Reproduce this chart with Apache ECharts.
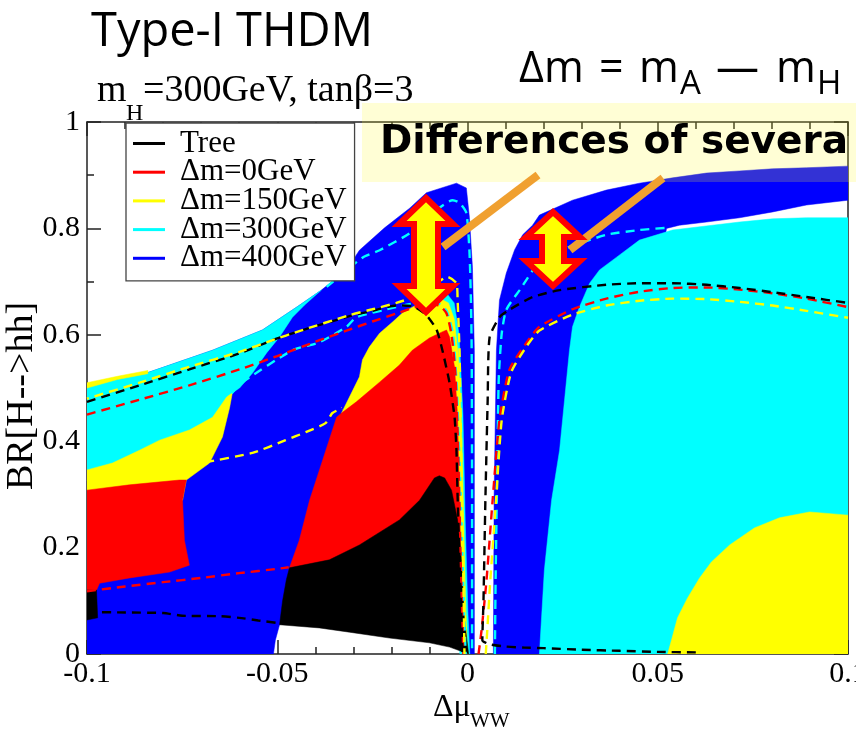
<!DOCTYPE html>
<html>
<head>
<meta charset="utf-8">
<script src="https://cdn.jsdelivr.net/npm/echarts/dist/echarts.min.js"></script>
<style>
  html, body { margin: 0; padding: 0; background: #ffffff; }
  #chart { width: 856px; height: 735px; }
</style>
</head>
<body>
<div id="chart"></div>
<script>
// ---- axis ticks and legend ----
const xTickLabels = ['-0.1', '-0.05', '0', '0.05', '0.1'];
const yTickLabels = ['0', '0.2', '0.4', '0.6', '0.8', '1'];
const legendNames = ['Tree', 'Δm=0GeV', 'Δm=150GeV', 'Δm=300GeV', 'Δm=400GeV'];
const legendColors = ['#000000', '#ff0000', '#ffff00', '#00ffff', '#0000ff'];

// ---- allowed regions [Δμ_WW, BR(H->hh)] ----
// Δm = 400 GeV
const band400Left = [[-0.1,0],[-0.051,0],[-0.0505,0.026],[-0.0494,0.055],[-0.04,0.1],[-0.02,0.12],[-0.003,0.08],[0.0005,0],[0.0018,0],[0.0018,0.571],[0.0013,0.727],[0.0005,0.821],[-0.0003,0.876],[-0.0029,0.885],[-0.0108,0.867],[-0.0152,0.838],[-0.0218,0.801],[-0.0284,0.759],[-0.0318,0.722],[-0.0384,0.684],[-0.0449,0.652],[-0.0539,0.609],[-0.067,0.571],[-0.0844,0.528],[-0.1,0.504]];
const band400Right = [[0.0068,0],[0.007,0.3],[0.0076,0.571],[0.0084,0.665],[0.0102,0.716],[0.0124,0.76],[0.0145,0.788],[0.0171,0.806],[0.0189,0.825],[0.0276,0.853],[0.0365,0.872],[0.0452,0.885],[0.0539,0.895],[0.0628,0.904],[0.0715,0.908],[0.0802,0.912],[0.0891,0.914],[0.1,0.917],[0.1,0.853],[0.0891,0.844],[0.0802,0.831],[0.0715,0.82],[0.0628,0.812],[0.0557,0.806],[0.0523,0.8],[0.05,0.7],[0.05,0]];
// Δm = 300 GeV
const band300Left = [[-0.1,0.504],[-0.0844,0.528],[-0.067,0.571],[-0.0539,0.609],[-0.0449,0.652],[-0.0384,0.684],[-0.0428,0.656],[-0.046,0.633],[-0.0494,0.596],[-0.0528,0.566],[-0.0565,0.528],[-0.0599,0.5],[-0.0618,0.491],[-0.07,0.38],[-0.1,0.33]];
const band300Centre = [[-0.0087,0.672],[-0.0055,0.678],[-0.0035,0.66],[-0.0022,0.6],[-0.0012,0.45],[-0.0006,0.25],[0.0001,0.08],[0.0006,0],[-0.002,0],[-0.005,0.4],[-0.009,0.6]];
const band300Right = [[0.0189,0],[0.0202,0.158],[0.0221,0.289],[0.0242,0.383],[0.0255,0.477],[0.0268,0.571],[0.0276,0.615],[0.0294,0.652],[0.0321,0.697],[0.0347,0.722],[0.0392,0.746],[0.0452,0.778],[0.0539,0.797],[0.0715,0.812],[0.0802,0.818],[0.0891,0.82],[0.1,0.82],[0.1,0]];
// Δm = 150 GeV
const band150Left = [[-0.1,0.346],[-0.0933,0.359],[-0.0862,0.383],[-0.0809,0.402],[-0.0731,0.421],[-0.067,0.445],[-0.0633,0.483],[-0.0618,0.491],[-0.0625,0.464],[-0.0644,0.408],[-0.0678,0.359],[-0.0739,0.327],[-0.0749,0.289],[-0.1,0.289]];
const band150Edge = [[-0.1,0.5],[-0.1,0.51],[-0.092,0.522],[-0.084,0.533],[-0.084,0.527],[-0.092,0.516]];
const band150Centre = [[-0.0331,0.453],[-0.0284,0.521],[-0.0276,0.553],[-0.0258,0.577],[-0.0231,0.603],[-0.0197,0.624],[-0.0171,0.641],[-0.0145,0.652],[-0.0108,0.665],[-0.0074,0.669],[-0.005,0.66],[-0.0035,0.63],[-0.0024,0.56],[-0.0016,0.44],[-0.001,0.25],[-0.0005,0.1],[0,0],[-0.003,0.2],[-0.03,0.35]];
const band150Right = [[0.0526,0],[0.0536,0.026],[0.0552,0.068],[0.0578,0.105],[0.061,0.143],[0.0641,0.173],[0.0689,0.205],[0.0754,0.237],[0.082,0.256],[0.0899,0.267],[0.1,0.261],[0.1,0]];
// Δm = 0 GeV
const band0Left = [[-0.1,0.308],[-0.0888,0.318],[-0.0757,0.327],[-0.0739,0.327],[-0.0749,0.289],[-0.0744,0.214],[-0.0731,0.167],[-0.0783,0.154],[-0.0888,0.143],[-0.0967,0.133],[-0.0975,0.12],[-0.1,0.12]];
const band0Centre = [[-0.0468,0.162],[-0.0442,0.214],[-0.0415,0.289],[-0.0344,0.445],[-0.0331,0.453],[-0.0292,0.474],[-0.0231,0.511],[-0.0179,0.543],[-0.0145,0.571],[-0.01,0.594],[-0.0068,0.605],[-0.0055,0.609],[-0.0047,0.596],[-0.0034,0.539],[-0.0026,0.445],[-0.0021,0.289],[-0.0016,0.139],[-0.0008,0],[-0.003,0.1],[-0.03,0.1],[-0.047,0.12]];
// tree level
const bandTreeEdge = [[-0.1,0.064],[-0.1,0.12],[-0.0975,0.12],[-0.0972,0.068]];
const bandTreeCentre = [[-0.0494,0.055],[-0.0486,0.1],[-0.0476,0.14],[-0.0468,0.162],[-0.0363,0.177],[-0.0284,0.205],[-0.0179,0.252],[-0.0126,0.289],[-0.0087,0.331],[-0.0074,0.335],[-0.006,0.331],[-0.0042,0.308],[-0.0026,0.252],[-0.0016,0.177],[-0.0008,0.064],[0.0003,0],[-0.0047,0.013],[-0.01,0.021],[-0.0205,0.03],[-0.031,0.041],[-0.0389,0.049]];

// ---- dashed curves ----
const treeUpperLeft = [[-0.1,0.474],[-0.0862,0.505],[-0.0731,0.535],[-0.0599,0.565],[-0.0512,0.59],[-0.0442,0.607],[-0.031,0.635],[-0.025,0.645],[-0.0187,0.655],[-0.0145,0.654],[-0.0108,0.637],[-0.0081,0.609],[-0.0066,0.571],[-0.0047,0.509],[-0.0034,0.445],[-0.0029,0.383],[-0.0026,0.295],[-0.0021,0.177],[-0.0016,0.064],[-0.0013,0]];
const treeLowerLeft = [[-0.1,0.079],[-0.09,0.078],[-0.08,0.077],[-0.075,0.072],[-0.065,0.071],[-0.06,0.068],[-0.055,0.063],[-0.0495,0.058]];
const treeRight = [[0.06,0.003],[0.05,0.004],[0.04,0.006],[0.03,0.008],[0.02,0.011],[0.015,0.012],[0.01,0.014],[0.006,0.018],[0.0039,0.026],[0.0042,0.1],[0.0047,0.289],[0.0053,0.477],[0.0058,0.595],[0.0084,0.633],[0.011,0.647],[0.0171,0.671],[0.0242,0.684],[0.0365,0.694],[0.0452,0.697],[0.0539,0.697],[0.0628,0.694],[0.0715,0.688],[0.0802,0.68],[0.0891,0.671],[0.1,0.66]];
const dm0UpperLeft = [[-0.1,0.45],[-0.0862,0.478],[-0.0731,0.505],[-0.0599,0.535],[-0.05,0.56],[-0.0407,0.585],[-0.0318,0.608],[-0.025,0.625],[-0.0187,0.64],[-0.0145,0.65],[-0.0108,0.657],[-0.0074,0.655],[-0.0055,0.64],[-0.0042,0.6],[-0.0032,0.53],[-0.0026,0.42],[-0.0021,0.28],[-0.0016,0.13],[-0.0011,0]];
const dm0LowerLeft = [[-0.1,0.118],[-0.09,0.127],[-0.08,0.135],[-0.07,0.143],[-0.06,0.152],[-0.05,0.16],[-0.047,0.163]];
const dm0Right = [[0.0029,0],[0.0037,0.045],[0.005,0.139],[0.0066,0.289],[0.0084,0.44],[0.011,0.534],[0.0155,0.585],[0.0189,0.615],[0.0276,0.648],[0.0365,0.668],[0.0452,0.681],[0.0539,0.688],[0.0628,0.689],[0.0715,0.685],[0.0802,0.678],[0.0891,0.668],[0.1,0.652]];
const dm150UpperLeft = [[-0.1,0.48],[-0.0862,0.51],[-0.0731,0.54],[-0.0599,0.568],[-0.0512,0.59],[-0.0442,0.607],[-0.031,0.637],[-0.025,0.648],[-0.0187,0.66],[-0.0126,0.675],[-0.0085,0.695],[-0.0053,0.709],[-0.0029,0.697],[-0.0026,0.665],[-0.0021,0.571],[-0.0017,0.4],[-0.0012,0.2],[-0.0008,0]];
const dm150LowerLeft = [[-0.1,0.325],[-0.0757,0.347],[-0.0697,0.359],[-0.0565,0.378],[-0.0478,0.402],[-0.0425,0.417],[-0.0373,0.434],[-0.0355,0.453],[-0.033,0.462]];
const dm150Right = [[0.0048,0],[0.0052,0.045],[0.006,0.139],[0.0075,0.289],[0.009,0.44],[0.0115,0.53],[0.0155,0.578],[0.0189,0.608],[0.0276,0.638],[0.0365,0.655],[0.0452,0.664],[0.0539,0.668],[0.0628,0.667],[0.0715,0.662],[0.0802,0.655],[0.0891,0.645],[0.1,0.632]];
const dm300UpperLeft = [[-0.037,0.69],[-0.0276,0.745],[-0.0231,0.759],[-0.0152,0.791],[-0.0081,0.835],[-0.0039,0.853],[-0.0021,0.848],[-0.0003,0.829],[0.0005,0.759],[0.0009,0.665],[0.0011,0.571],[0.0012,0.289],[0.0012,0]];
const dm300LowerLeft = [[-0.062,0.49],[-0.0591,0.511],[-0.046,0.571],[-0.0389,0.586],[-0.0318,0.615],[-0.0292,0.633],[-0.0187,0.652],[-0.0126,0.66],[-0.008,0.66],[-0.0055,0.645],[-0.0038,0.6],[-0.0028,0.5],[-0.0018,0.3],[-0.001,0.1],[-0.0005,0]];
const dm300Right = [[0.0072,0],[0.0074,0.15],[0.0077,0.289],[0.0082,0.515],[0.009,0.603],[0.0102,0.647],[0.0137,0.684],[0.0189,0.737],[0.0242,0.756],[0.0268,0.765],[0.0365,0.788],[0.0452,0.797],[0.0523,0.801]];

const serif = "'Liberation Serif', 'Times New Roman', serif";
const sans = "'Open Sans', 'Noto Sans', sans-serif";
const frame = { color: '#222222', width: 1.5 };

// filled region drawn as a polygon through the cartesian axes
function region(name, color, pts) {
  return {
    type: 'custom', name: name, coordinateSystem: 'cartesian2d',
    silent: true, animation: false, clip: true,
    data: [[pts[0][0], pts[0][1]]],
    encode: { x: 0, y: 1 },
    renderItem: function (params, api) {
      return {
        type: 'polygon',
        shape: { points: pts.map(function (p) { return api.coord(p); }) },
        style: { fill: color, stroke: color, lineWidth: 0.5 }
      };
    }
  };
}

function dashed(name, color, pts, offset) {
  return {
    type: 'line', name: name, data: pts, symbol: 'none', showSymbol: false,
    silent: true, animation: false, smooth: 0.2, z: 4,
    lineStyle: { color: color, width: 2.4, type: [9, 6], dashOffset: offset || 0 }
  };
}

function xAxisDef(pos, labels) {
  return {
    type: 'value', position: pos, min: -0.1, max: 0.1, interval: 0.05,
    axisLine: { show: true, onZero: false, lineStyle: frame },
    axisTick: { show: true, inside: true, length: 14, lineStyle: frame },
    minorTick: { show: true, splitNumber: 5, length: 7, lineStyle: frame },
    splitLine: { show: false }, minorSplitLine: { show: false },
    axisLabel: {
      show: labels, margin: 5, fontFamily: serif, fontSize: 30, color: '#000',
      formatter: function (v) { return xTickLabels[Math.round((v + 0.1) / 0.05)]; }
    }
  };
}

function yAxisDef(pos, labels) {
  return {
    type: 'value', position: pos, min: 0, max: 1, interval: 0.2,
    axisLine: { show: true, onZero: false, lineStyle: frame },
    axisTick: { show: true, inside: true, length: 14, lineStyle: frame },
    minorTick: { show: true, splitNumber: 2, length: 7, lineStyle: frame },
    splitLine: { show: false }, minorSplitLine: { show: false },
    axisLabel: {
      show: labels, margin: 7, fontFamily: serif, fontSize: 30, color: '#000',
      formatter: function (v) { return yTickLabels[Math.round(v / 0.2)]; }
    }
  };
}

const series = [
  region(legendNames[4], legendColors[4], band400Left),
  region(legendNames[4], legendColors[4], band400Right),
  region(legendNames[3], legendColors[3], band300Left),
  region(legendNames[3], legendColors[3], band300Centre),
  region(legendNames[3], legendColors[3], band300Right),
  region(legendNames[2], legendColors[2], band150Left),
  region(legendNames[2], legendColors[2], band150Edge),
  region(legendNames[2], legendColors[2], band150Centre),
  region(legendNames[2], legendColors[2], band150Right),
  region(legendNames[1], legendColors[1], band0Left),
  region(legendNames[1], legendColors[1], band0Centre),
  region(legendNames[0], legendColors[0], bandTreeEdge),
  region(legendNames[0], legendColors[0], bandTreeCentre),
  dashed(legendNames[3], legendColors[3], dm300UpperLeft),
  dashed(legendNames[3], legendColors[3], dm300LowerLeft),
  dashed(legendNames[3], legendColors[3], dm300Right),
  dashed(legendNames[1], legendColors[1], dm0UpperLeft),
  dashed(legendNames[1], legendColors[1], dm0LowerLeft),
  dashed(legendNames[1], legendColors[1], dm0Right),
  dashed(legendNames[0], legendColors[0], treeUpperLeft),
  dashed(legendNames[0], legendColors[0], treeLowerLeft),
  dashed(legendNames[0], legendColors[0], treeRight),
  dashed(legendNames[2], legendColors[2], dm150UpperLeft, 7),
  dashed(legendNames[2], legendColors[2], dm150LowerLeft),
  dashed(legendNames[2], legendColors[2], dm150Right)
];

// double-headed arrow outline around a vertical centre line
function arrow(cx, top, bottom, half, head, shaft) {
  return [
    [cx, top], [cx + half, top + head], [cx + shaft, top + head],
    [cx + shaft, bottom - head], [cx + half, bottom - head], [cx, bottom],
    [cx - half, bottom - head], [cx - shaft, bottom - head],
    [cx - shaft, top + head], [cx - half, top + head]
  ];
}

function txt(x, y, text, family, size, extra) {
  const style = Object.assign({ text: text, fontFamily: family, fontSize: size, fill: '#000', verticalAlign: 'middle', align: 'left' }, extra || {});
  return { type: 'text', x: x, y: y, z: 110, silent: true, style: style };
}

const graphics = [
  { type: 'rect', x: 362, y: 103, z: 100, silent: true, shape: { width: 494, height: 79 }, style: { fill: 'rgba(255,250,45,0.2)' } },
  txt(380, 143, 'Differences of severa', "'DejaVu Sans', sans-serif", 39, { fontWeight: 'bold' }),
  { type: 'line', z: 102, silent: true, shape: { x1: 538, y1: 175, x2: 443, y2: 247 }, style: { stroke: '#f0a030', lineWidth: 8 } },
  { type: 'line', z: 102, silent: true, shape: { x1: 663, y1: 178, x2: 570, y2: 250 }, style: { stroke: '#f0a030', lineWidth: 8 } },
  { type: 'polygon', z: 103, silent: true, shape: { points: arrow(426, 198, 312, 27, 26, 12) }, style: { fill: '#ffff00', stroke: '#ff0000', lineWidth: 6, lineJoin: 'miter' } },
  { type: 'polygon', z: 103, silent: true, shape: { points: arrow(553, 212, 286, 27, 25, 11) }, style: { fill: '#ffff00', stroke: '#ff0000', lineWidth: 6, lineJoin: 'miter' } },
  // headings
  txt(91, 33, 'Type-I THDM', sans, 47),
  txt(519, 70, 'Δm', sans, 43),
  txt(599, 70, '=', sans, 43),
  txt(639, 70, 'm', sans, 43),
  txt(680, 85, 'A', sans, 33),
  txt(716, 70, '—', sans, 43),
  txt(776, 70, 'm', sans, 43),
  txt(817, 85, 'H', sans, 33),
  txt(97, 91, 'm', serif, 38),
  txt(126, 114, 'H', serif, 24),
  txt(143, 91, '=300GeV, tanβ=3', serif, 38),
  // axis titles
  txt(433, 708, 'Δμ', serif, 32),
  txt(470, 721, 'WW', serif, 21),
  { type: 'text', x: 22, y: 396, rotation: Math.PI / 2, z: 110, silent: true,
    style: { text: 'BR[H-->hh]', fontFamily: serif, fontSize: 38, fill: '#000', align: 'center', verticalAlign: 'middle' } }
];

const option = {
  animation: false,
  backgroundColor: '#ffffff',
  grid: { left: 87, top: 122, right: 8, bottom: 81, containLabel: false, outerBoundsMode: 'none' },
  xAxis: [xAxisDef('bottom', true), xAxisDef('top', false)],
  yAxis: [yAxisDef('left', true), yAxisDef('right', false)],
  legend: {
    orient: 'vertical', left: 126, top: 123, z: 10,
    data: legendNames.map(function (n, i) { return { name: n, icon: 'rect', itemStyle: { color: legendColors[i], borderWidth: 0 } }; }),
    itemWidth: 32, itemHeight: 3, itemGap: -2.3,
    padding: [5, 8, 7, 7],
    backgroundColor: '#ffffff', borderColor: '#444444', borderWidth: 1.3, borderRadius: 0,
    selectedMode: false,
    textStyle: { fontFamily: serif, fontSize: 31, color: '#000', lineHeight: 28.7, padding: [0, 0, 0, 10] }
  },
  series: series,
  graphic: { elements: graphics }
};

const chart = echarts.init(document.getElementById('chart'), null, { renderer: 'canvas', width: 856, height: 735 });
chart.setOption(option);
</script>
</body>
</html>
